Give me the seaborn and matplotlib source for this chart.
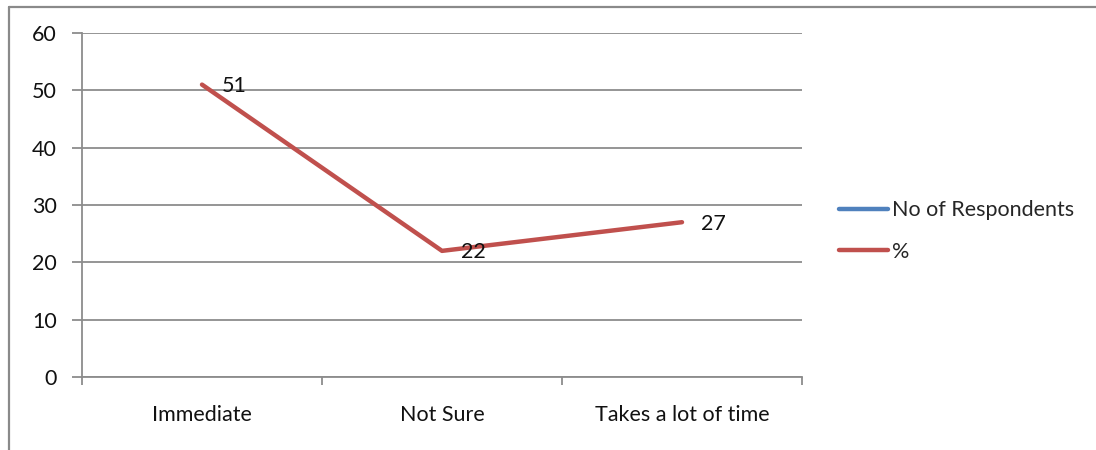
import numpy as np
import pandas as pd
import matplotlib
matplotlib.use("Agg")
import matplotlib.pyplot as plt
from matplotlib.lines import Line2D
import seaborn as sns

# Response speed categories and the two survey series
categories = ["Immediate", "Not Sure", "Takes a lot of time"]
respondents = [np.nan, np.nan, np.nan]
percent = [51, 22, 27]
series_names = ["No of Respondents", "%"]
y_ticks = [0, 10, 20, 30, 40, 50, 60]

df = pd.DataFrame({
    "category": categories * 2,
    "pos": list(range(len(categories))) * 2,
    "value": respondents + percent,
    "series": [series_names[0]] * len(categories) + [series_names[1]] * len(categories),
})

sns.set_theme(style="white")
plt.rcParams["font.family"] = ["Lato", "DejaVu Sans"]

fs = 15.5
grid_col = "#8c8c8c"
fig = plt.figure(figsize=(10.96, 4.5), dpi=100)
ax = fig.add_axes([82 / 1096, 1 - 377 / 450, 720 / 1096, 344 / 450])

palette = {series_names[0]: "#4F81BD", series_names[1]: "#C0504D"}
sns.lineplot(data=df, x="pos", y="value", hue="series", hue_order=series_names,
             palette=palette, linewidth=3.2, ax=ax, legend=True, sort=False)

ax.set_xlim(-0.5, len(categories) - 0.5)
ax.set_ylim(0, 60)
ax.set_yticks(y_ticks)
ax.set_xticks(range(len(categories)))
ax.set_xticklabels(categories)
ax.set_xticks(np.arange(-0.5, len(categories), 1.0), minor=True)
ax.set_xlabel("")
ax.set_ylabel("")

ax.yaxis.grid(True, color=grid_col, linewidth=1.3)
ax.set_axisbelow(True)
for side in ["top", "right"]:
    ax.spines[side].set_visible(False)
for side in ["left", "bottom"]:
    ax.spines[side].set_color(grid_col)
    ax.spines[side].set_linewidth(1.3)

ax.tick_params(axis="y", which="major", direction="out", length=7, width=1.3,
               color=grid_col, pad=11, labelsize=fs, labelcolor="#111111", left=True)
ax.tick_params(axis="x", which="major", length=0, pad=20, labelsize=fs,
               labelcolor="#111111")
ax.tick_params(axis="x", which="minor", direction="out", length=6, width=1.3,
               color=grid_col, bottom=True)

# Value labels to the right of each point
for i, v in enumerate(percent):
    ax.annotate(f"{v}", xy=(i, v), xytext=(14, -1), textcoords="offset points",
                ha="left", va="center", fontsize=fs, color="#111111")

handles, labels = ax.get_legend_handles_labels()
ax.legend(handles, labels, loc="center left", bbox_to_anchor=(828 / 1096, 1 - 231 / 450),
          bbox_transform=fig.transFigure, frameon=False, fontsize=fs,
          handlelength=2.3, handletextpad=0.15, labelspacing=1.0, borderpad=0)

# Outer chart border (left and top edges)
fig.add_artist(Line2D([9 / 1096, 9 / 1096], [0, 1 - 7 / 450], color="#8a8a8a", linewidth=1.6))
fig.add_artist(Line2D([9 / 1096, 1], [1 - 7 / 450, 1 - 7 / 450], color="#8a8a8a", linewidth=1.6))

fig.savefig("out.png", dpi=100, facecolor="white")
